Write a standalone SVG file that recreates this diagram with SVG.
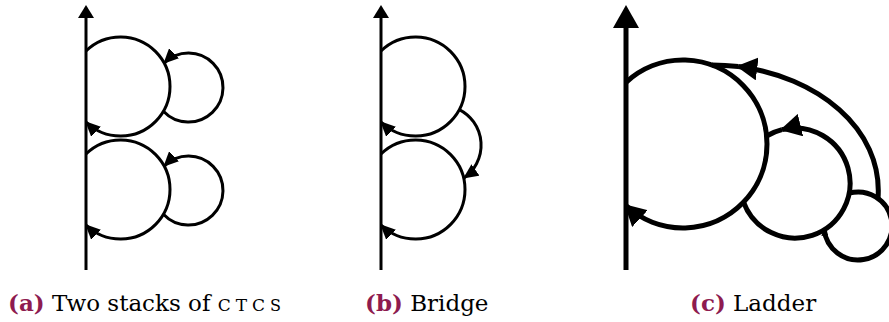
<svg xmlns="http://www.w3.org/2000/svg" width="889" height="322" viewBox="0 0 889 322">
<style>
  .ln { fill: none; stroke: #000; stroke-width: 3; }
  .lc { fill: none; stroke: #000; stroke-width: 5; }
  .cap { font-family: "DejaVu Serif", "Liberation Serif", serif; font-size: 23px; fill: #000; }
  .lab { font-weight: bold; fill: #8E1B4F; }
</style>
<defs>
  <marker id="axA" markerUnits="userSpaceOnUse" viewBox="0 0 13 16" markerWidth="13" markerHeight="16" refX="0" refY="8" orient="auto">
    <path d="M0,0 L13,8 L0,16 Z" fill="#000"/>
  </marker>
  <marker id="arA" markerUnits="userSpaceOnUse" viewBox="0 0 15 14" markerWidth="15" markerHeight="14" refX="14" refY="7" orient="auto">
    <path d="M0,0 L15,7 L0,14 Z" fill="#000"/>
  </marker>
  <marker id="axC" markerUnits="userSpaceOnUse" viewBox="0 0 23 26" markerWidth="23" markerHeight="26" refX="0" refY="13" orient="auto">
    <path d="M0,0 L23,13 L0,26 Z" fill="#000"/>
  </marker>
  <marker id="arC" markerUnits="userSpaceOnUse" viewBox="0 0 21 23" markerWidth="21" markerHeight="23" refX="19" refY="11.5" orient="auto">
    <path d="M0,0 L21,11.5 L0,23 Z" fill="#000"/>
  </marker>
  <marker id="arT" markerUnits="userSpaceOnUse" viewBox="0 0 7 7" markerWidth="7" markerHeight="7" refX="6" refY="3.5" orient="auto">
    <path d="M0,0 L7,3.5 L0,7 Z" fill="#000"/>
  </marker>
</defs>

<!-- (a) Two stacks of CTCs -->
<g id="axis-a"><path class="ln" d="M86,270 L86,18" marker-end="url(#axA)"/></g>
<g id="ctc-a1">
  <path class="ln" d="M86,51 A49.5,49.5 0 1 1 86,122" marker-end="url(#arA)"/>
</g>
<g id="ctc-a1-inner">
  <path class="ln" d="M163.4,111.2 A34.5,34.5 0 1 0 164.1,63.1" marker-end="url(#arA)"/>
</g>
<g id="ctc-a2">
  <path class="ln" d="M86,154 A49.5,49.5 0 1 1 86,225" marker-end="url(#arA)"/>
</g>
<g id="ctc-a2-inner">
  <path class="ln" d="M163.4,214.2 A34.5,34.5 0 1 0 164.1,166.1" marker-end="url(#arA)"/>
</g>

<!-- (b) Bridge -->
<g id="axis-b"><path class="ln" d="M381,270 L381,18" marker-end="url(#axA)"/></g>
<g id="ctc-b1">
  <path class="ln" d="M381,51 A49.5,49.5 0 1 1 381,122" marker-end="url(#arA)"/>
</g>
<g id="ctc-b2">
  <path class="ln" d="M381,154 A49.5,49.5 0 1 1 381,225" marker-end="url(#arA)"/>
</g>
<g id="bridge-b">
  <path class="ln" d="M459.3,109.6 A40,40 0 0 1 464,178" marker-end="url(#arA)"/>
</g>

<!-- (c) Ladder -->
<g id="axis-c"><path class="lc" d="M626,270 L626,28" marker-end="url(#axC)"/></g>
<g id="ctc-c1">
  <path class="lc" d="M626,82.3 A84,84 0 1 1 626,205.7" marker-end="url(#arC)"/>
</g>
<g id="ctc-c2">
  <path class="lc" d="M743.5,202.2 A55,55 0 1 0 782,129.6" marker-end="url(#arC)"/>
  <path class="lc" d="M782,129.6 A55,55 0 0 0 766.5,136"/>
</g>
<g id="ctc-c3">
  <path class="lc" d="M849,193.2 A34,34 0 1 1 824.2,229.6" marker-end="url(#arT)"/>
</g>
<g id="ladder-c">
  <path class="lc" d="M878,198.5 C883.4,127.85 815.9,76.2 738.3,66.6" marker-end="url(#arC)"/>
  <path class="lc" d="M738.3,66.6 C729.6,65.55 720.8,65 712,65"/>
</g>

<!-- captions -->
<text class="cap" x="8" y="311"><tspan class="lab">(a)</tspan> Two stacks of <tspan font-size="17" letter-spacing="5">CTC</tspan><tspan font-variant="small-caps">s</tspan></text>
<text class="cap" x="365" y="311"><tspan class="lab">(b)</tspan> Bridge</text>
<text class="cap" x="690" y="311"><tspan class="lab">(c)</tspan> Ladder</text>
</svg>
